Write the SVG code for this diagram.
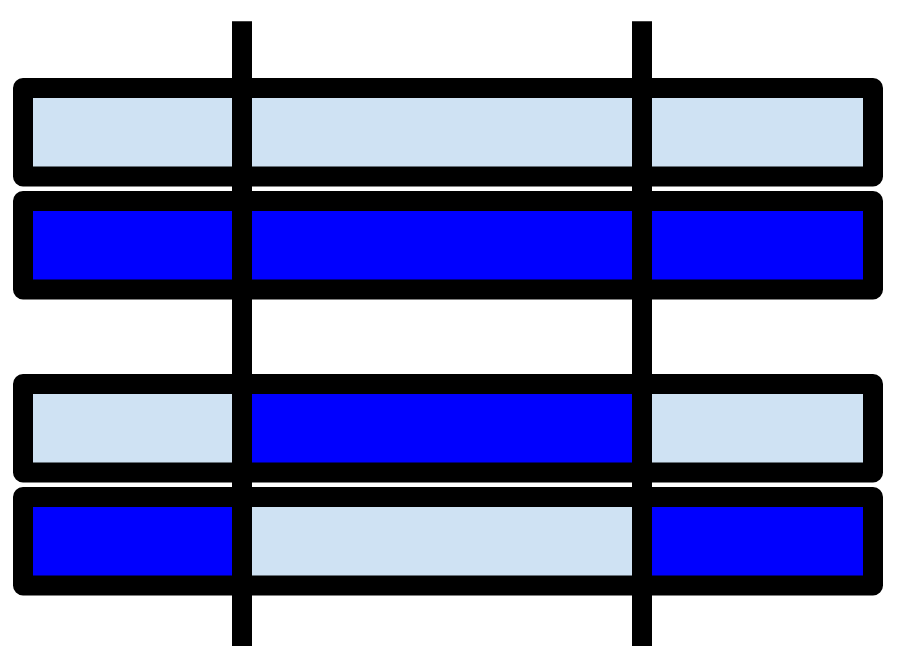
<svg xmlns="http://www.w3.org/2000/svg" width="898" height="663" viewBox="0 0 898 663">
  <style>
    .lt { fill: #cfe2f3; }
    .bl { fill: #0000ff; }
    .frame { fill: none; stroke: #000000; stroke-width: 20; stroke-linejoin: round; }
    .vline { stroke: #000000; stroke-width: 20; stroke-linecap: butt; }
  </style>
  <rect width="898" height="663" fill="#ffffff"/>
  <g id="bar1">
    <rect class="lt" x="23" y="88" width="850" height="88.5"/>
    <rect class="frame" x="23" y="88" width="850" height="88.5"/>
  </g>
  <g id="bar2">
    <rect class="bl" x="23" y="201" width="850" height="88.5"/>
    <rect class="frame" x="23" y="201" width="850" height="88.5"/>
  </g>
  <g id="bar3">
    <rect class="lt" x="23" y="384" width="219" height="88.5"/>
    <rect class="bl" x="242" y="384" width="400" height="88.5"/>
    <rect class="lt" x="642" y="384" width="231" height="88.5"/>
    <rect class="frame" x="23" y="384" width="850" height="88.5"/>
  </g>
  <g id="bar4">
    <rect class="bl" x="23" y="497" width="219" height="88.5"/>
    <rect class="lt" x="242" y="497" width="400" height="88.5"/>
    <rect class="bl" x="642" y="497" width="231" height="88.5"/>
    <rect class="frame" x="23" y="497" width="850" height="88.5"/>
  </g>
  <g id="connectors">
    <line class="vline" x1="242" y1="21.3" x2="242" y2="646"/>
    <line class="vline" x1="642" y1="21.3" x2="642" y2="646"/>
  </g>
</svg>
